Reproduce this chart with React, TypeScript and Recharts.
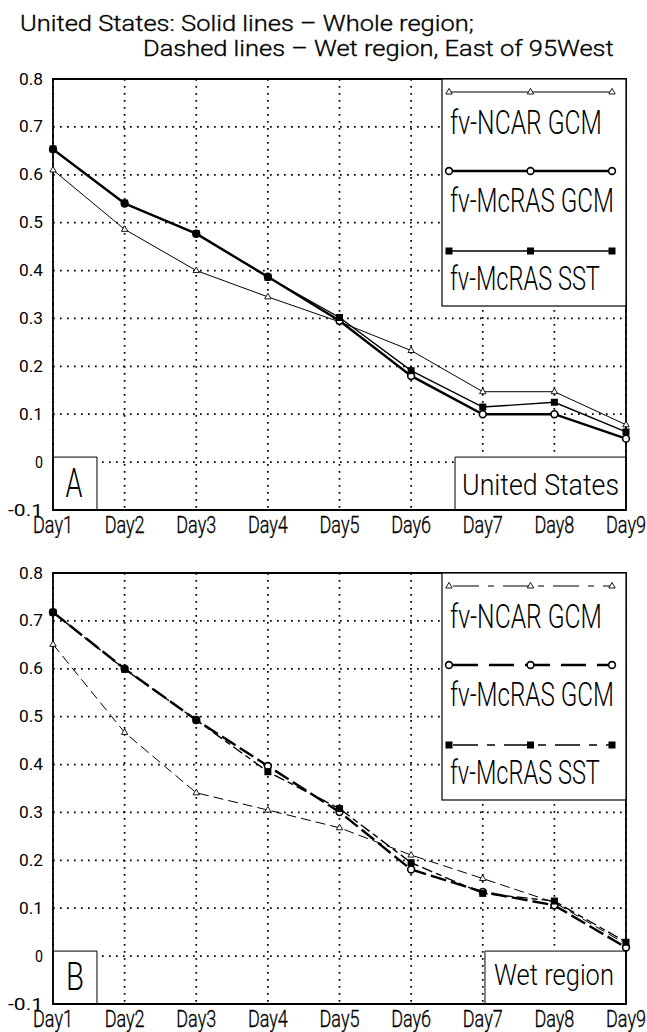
import React from 'react';
import { LineChart, Line, XAxis, YAxis, CartesianGrid, ReferenceArea } from 'recharts';

const categories = ['Day1', 'Day2', 'Day3', 'Day4', 'Day5', 'Day6', 'Day7', 'Day8', 'Day9'];
const dayIndex = [1, 2, 3, 4, 5, 6, 7, 8, 9];
const yTicks = [-0.1, 0, 0.1, 0.2, 0.3, 0.4, 0.5, 0.6, 0.7, 0.8];
const yTickLabels = ['-0.1', '0', '0.1', '0.2', '0.3', '0.4', '0.5', '0.6', '0.7', '0.8'];
const seriesNames = ['fv-NCAR GCM', 'fv-McRAS GCM', 'fv-McRAS SST'];
const titleLines = ['United States: Solid lines \u2013 Whole region;', 'Dashed lines \u2013 Wet region, East of 95West'];
const panelALabels = ['A', 'United States'];
const panelBLabels = ['B', 'Wet region'];

// Panel A: United States, whole region (solid lines)
const usNcar = [0.610, 0.486, 0.400, 0.345, 0.293, 0.233, 0.147, 0.147, 0.078];
const usGcm = [0.653, 0.540, 0.477, 0.387, 0.295, 0.180, 0.100, 0.100, 0.049];
const usSst = [0.654, 0.541, 0.477, 0.386, 0.302, 0.191, 0.115, 0.125, 0.063];

// Panel B: wet region, east of 95W (dashed lines)
const wetNcar = [0.651, 0.467, 0.341, 0.305, 0.268, 0.211, 0.162, 0.112, 0.025];
const wetGcm = [0.718, 0.600, 0.493, 0.397, 0.301, 0.181, 0.134, 0.106, 0.018];
const wetSst = [0.718, 0.599, 0.493, 0.385, 0.308, 0.195, 0.131, 0.115, 0.029];

const FONT = 'Roboto, "DejaVu Sans", sans-serif';

let measureCtx: any = null;
function measure(text: string, weight: number, size: number) {
  if (!measureCtx) measureCtx = document.createElement('canvas').getContext('2d');
  measureCtx.font = `${weight} ${size}px Roboto, "DejaVu Sans", sans-serif`;
  return measureCtx.measureText(text).width || text.length * size * 0.5;
}

function StretchText({ x, y, text, width, size, anchor = 'start', weight = 300, stroke = 0 }: any) {
  const sx = width / measure(text, weight, size);
  return (
    <text transform={`translate(${x},${y}) scale(${sx.toFixed(4)},1)`} x={0} y={0} textAnchor={anchor}
      fontFamily={FONT} fontWeight={weight} fontSize={size} fill="#000"
      stroke={stroke ? '#000' : undefined} strokeWidth={stroke || undefined}>
      {text}
    </text>
  );
}

const triangle = (cx: number, cy: number) => (
  <path d={`M${cx},${cy - 3.6}L${cx + 3.2},${cy + 2}L${cx - 3.2},${cy + 2}Z`} fill="#fff" stroke="#000" strokeWidth={0.9} />
);
const circle = (cx: number, cy: number) => (
  <circle cx={cx} cy={cy} r={3.4} fill="#fff" stroke="#000" strokeWidth={1.6} />
);
const square = (cx: number, cy: number) => (
  <rect x={cx - 3.5} y={cy - 3.5} width={7} height={7} fill="#000" />
);
const markers = [triangle, circle, square];
const lineWidths = [1, 2.4, 1.4];
const wetDash = ['10 5', '16 5', '11 4 6 4'];
const legendWetDash = ['26 9 6 9', '25 11', '25 9 8 9'];

// annotation box extents (in axis units)
const labelBoxX2 = 1.614;
const regionBoxX1 = [6.613, 7.031];
const boxTop = 0.0105;

const XTick = (props: any) => {
  const { x, y, payload } = props;
  const label = categories[dayIndex.indexOf(payload.value)];
  return <StretchText x={x} y={y + 23} text={label} width={40} size={24} anchor="middle" stroke={0.35} />;
};

const YTick = (props: any) => {
  const { x, y, payload } = props;
  const label = yTickLabels[yTicks.indexOf(payload.value)];
  const w = label.length === 4 ? 35 : label.length === 3 ? 24 : 8;
  return <StretchText x={x - 10} y={y + 5.5} text={label} width={w} size={16} anchor="end" weight={400} />;
};

function Panel({ top, values, dashes, regionX1 }: any) {
  const data = dayIndex.map((d, i) => ({ d, s0: values[0][i], s1: values[1][i], s2: values[2][i] }));
  return (
    <div style={{ position: 'absolute', left: 0, top }}>
      <LineChart width={647} height={538} data={data} margin={{ top: 79, right: 21, bottom: 0, left: 0 }}>
        <CartesianGrid stroke="#000" strokeWidth={1.7} strokeDasharray="1.7 5.3" />
        <XAxis type="number" dataKey="d" domain={[1, 9]} ticks={dayIndex} interval={0} height={28}
          axisLine={false} tickLine={false} tickSize={0} tickMargin={0} tick={<XTick />} />
        <YAxis type="number" domain={[-0.1, 0.8]} ticks={yTicks} interval={0} width={53}
          axisLine={false} tickLine={false} tickSize={0} tickMargin={0} tick={<YTick />} />
        <ReferenceArea x1={1} x2={labelBoxX2} y1={-0.1} y2={boxTop} fill="#fff" fillOpacity={1} stroke="#000" strokeWidth={1} />
        <ReferenceArea x1={regionX1} x2={9} y1={-0.1} y2={boxTop} fill="#fff" fillOpacity={1} stroke="#000" strokeWidth={1} />
        <ReferenceArea x1={1} x2={9} y1={-0.1} y2={0.8} fill="none" fillOpacity={0} stroke="#000" strokeWidth={1.8} />
        {[0, 1, 2].map((i) => (
          <Line key={i} type="linear" dataKey={`s${i}`} stroke="#000" strokeWidth={lineWidths[i]}
            strokeDasharray={dashes ? dashes[i] : undefined} isAnimationActive={false} activeDot={false}
            dot={(p: any) => (p.cx == null ? <g key={`n${p.index}`} /> : <g key={`d${i}-${p.index}`}>{markers[i](p.cx, p.cy)}</g>)} />
        ))}
      </LineChart>
    </div>
  );
}

function LegendBox({ top, dashes }: any) {
  const lineY = [13, 92, 172];
  const textY = [55, 133, 211];
  const textLen = [152, 164, 150];
  const mx = [449, 530.5, 612];
  return (
    <g>
      <rect x={442} y={top} width={184} height={227} fill="#fff" stroke="#000" strokeWidth={1.2} />
      {seriesNames.map((name, i) => (
        <g key={name}>
          <line x1={mx[0]} x2={mx[2]} y1={top + lineY[i]} y2={top + lineY[i]} stroke="#000" strokeWidth={lineWidths[i]}
            strokeDasharray={dashes ? dashes[i] : undefined} strokeDashoffset={-4} />
          {mx.map((x) => (
            <g key={x}>{markers[i](x, top + lineY[i])}</g>
          ))}
          <StretchText x={450} y={top + textY[i]} text={name} width={textLen[i]} size={33} />
        </g>
      ))}
    </g>
  );
}

export default function App() {
  return (
    <div style={{ position: 'absolute', left: 0, top: 0, width: 647, height: 1032, overflow: 'hidden', background: '#fff' }}>
      <Panel top={0} values={[usNcar, usGcm, usSst]} regionX1={regionBoxX1[0]} />
      <Panel top={494} values={[wetNcar, wetGcm, wetSst]} dashes={wetDash} regionX1={regionBoxX1[1]} />
      <svg width={647} height={1032} style={{ position: 'absolute', left: 0, top: 0, pointerEvents: 'none' }}>
        <StretchText x={20} y={31} text={titleLines[0]} width={454} size={22} stroke={0.35} />
        <StretchText x={143} y={56} text={titleLines[1]} width={471} size={22} stroke={0.35} />
        <LegendBox top={79} />
        <LegendBox top={573} dashes={legendWetDash} />
        <StretchText x={74} y={497} text={panelALabels[0]} width={17} size={40} anchor="middle" />
        <StretchText x={540.5} y={495} text={panelALabels[1]} width={157} size={30} anchor="middle" />
        <StretchText x={75} y={990} text={panelBLabels[0]} width={18} size={38} anchor="middle" />
        <StretchText x={554} y={985} text={panelBLabels[1]} width={120} size={30} anchor="middle" />
      </svg>
    </div>
  );
}
